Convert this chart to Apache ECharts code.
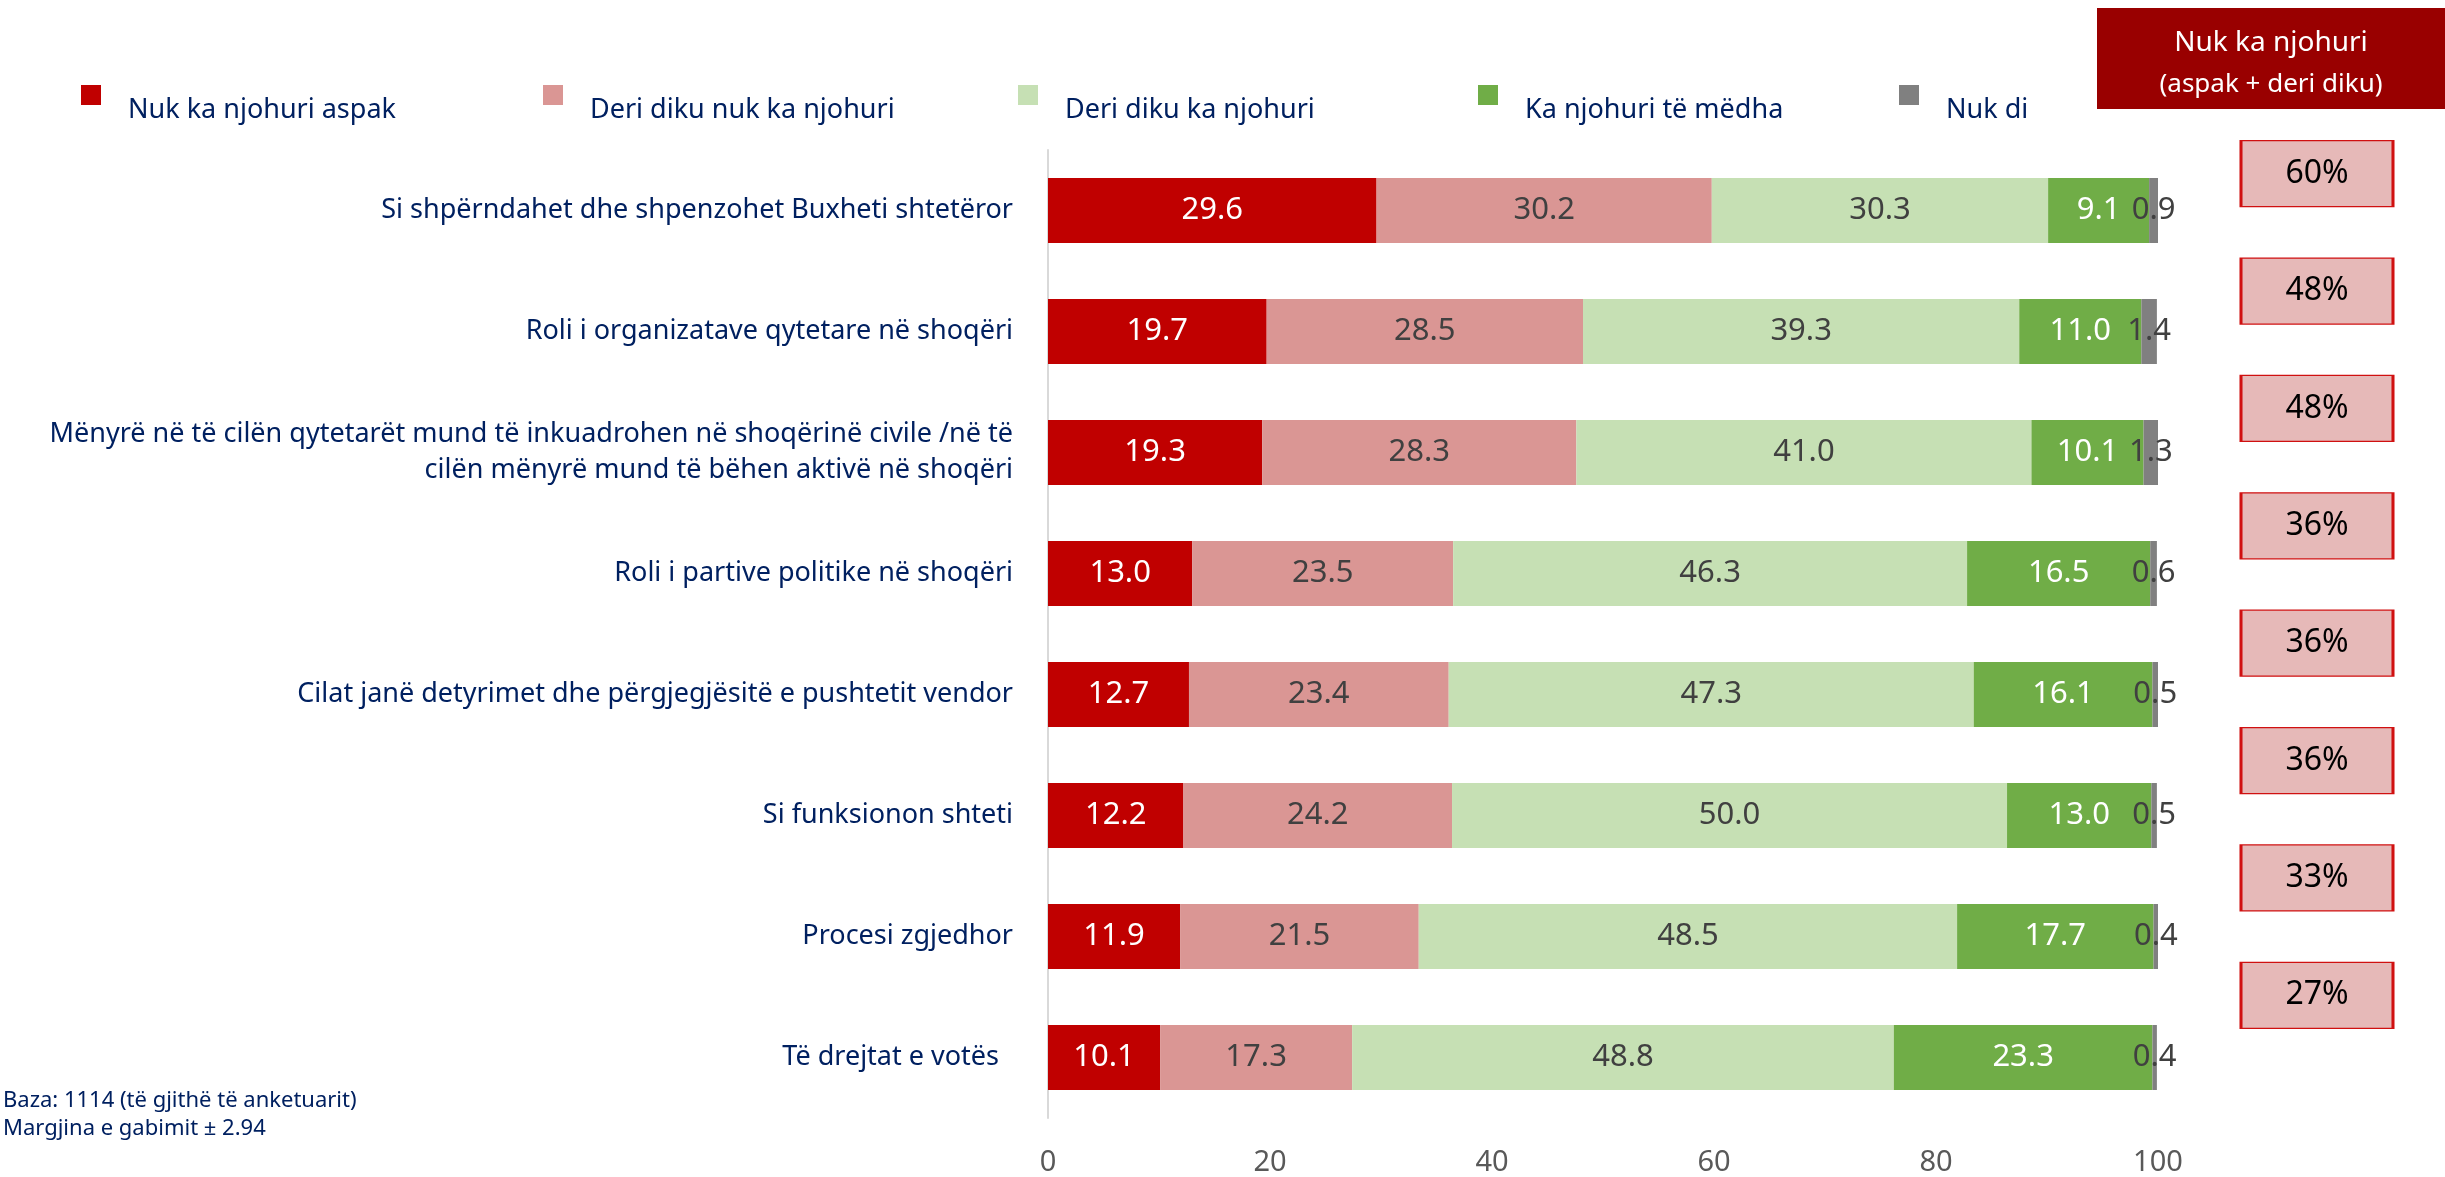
<!DOCTYPE html>
<html>
<head>
<meta charset="utf-8">
<script src="https://cdn.jsdelivr.net/npm/echarts@6/dist/echarts.min.js"></script>
<style>
  html, body { margin: 0; padding: 0; background: #fff; }
  #chart { width: 2445px; height: 1177px; }
</style>
</head>
<body>
<div id="chart"></div>
<script>
// data
var categories = [
  'Si shpërndahet dhe shpenzohet Buxheti shtetëror',
  'Roli i organizatave qytetare në shoqëri',
  'Mënyrë në të cilën qytetarët mund të inkuadrohen në shoqërinë civile /në të\ncilën mënyrë mund të bëhen aktivë në shoqëri',
  'Roli i partive politike në shoqëri',
  'Cilat janë detyrimet dhe përgjegjësitë e pushtetit vendor',
  'Si funksionon shteti',
  'Procesi zgjedhor',
  'Të drejtat e votës  '
]
var seriesNames = ['Nuk ka njohuri aspak', 'Deri diku nuk ka njohuri', 'Deri diku ka njohuri', 'Ka njohuri të mëdha', 'Nuk di']
var nukAspak = [29.6, 19.7, 19.3, 13.0, 12.7, 12.2, 11.9, 10.1]
var deriDikuNuk = [30.2, 28.5, 28.3, 23.5, 23.4, 24.2, 21.5, 17.3]
var deriDikuKa = [30.3, 39.3, 41.0, 46.3, 47.3, 50.0, 48.5, 48.8]
var kaTeMedha = [9.1, 11.0, 10.1, 16.5, 16.1, 13.0, 17.7, 23.3]
var nukDi = [0.9, 1.4, 1.3, 0.6, 0.5, 0.5, 0.4, 0.4]
var nukKaTotal = [60, 48, 48, 36, 36, 36, 33, 27]
var xTicks = [0, 20, 40, 60, 80, 100]

var colors = ['#C00000', '#DA9694', '#C6E0B4', '#70AD47', '#808080']
var labelColors = ['#ffffff', '#404040', '#404040', '#ffffff', '#404040']
var legendLeft = [81, 543, 1018, 1478, 1899]
var FONT = 'Noto Sans'
// legend square sits above the text line, like in the original
var legendIcon = 'path://M0,0h20v20h-20zM0,49.9h0.1v0.1h-0.1z'

var chart = echarts.init(document.getElementById('chart'))

var values = [nukAspak, deriDikuNuk, deriDikuKa, kaTeMedha, nukDi]
var barSeries = values.map(function (arr, i) {
  return {
    name: seriesNames[i],
    type: 'bar',
    stack: 'total',
    barWidth: 65,
    data: arr,
    itemStyle: { color: colors[i] },
    label: {
      show: true,
      position: 'inside',
      color: labelColors[i],
      fontFamily: FONT,
      fontSize: 31,
      formatter: function (p) { return p.value.toFixed(1) }
    },
    animation: false
  }
})

var legends = seriesNames.map(function (name, i) {
  return {
    data: [{ name: name, icon: legendIcon }],
    left: legendLeft[i],
    top: 85,
    padding: 0,
    itemWidth: 20,
    itemHeight: 50,
    selectedMode: false,
    textStyle: {
      color: '#002060',
      fontFamily: FONT,
      fontSize: 27,
      padding: [0, 0, 0, 22]
    }
  }
})

chart.setOption({
  backgroundColor: '#fff',
  legend: legends,
  grid: [
    { left: 1048, top: 150, width: 1110, height: 968, outerBoundsMode: 'none' },
    { left: 2237, top: 115, width: 160, height: 939, outerBoundsMode: 'none' }
  ],
  xAxis: [
    {
      type: 'value',
      gridIndex: 0,
      min: 0,
      max: 100,
      interval: 20,
      axisLine: { show: false },
      axisTick: { show: false },
      splitLine: { show: false },
      axisLabel: {
        color: '#595959',
        fontFamily: FONT,
        fontSize: 29,
        margin: 30,
        customValues: xTicks
      }
    },
    { type: 'value', gridIndex: 1, min: 0, max: 1, show: false }
  ],
  yAxis: [
    {
      type: 'category',
      gridIndex: 0,
      data: categories,
      inverse: true,
      axisLine: { show: true, lineStyle: { color: '#D9D9D9', width: 2 } },
      axisTick: { show: false },
      axisLabel: {
        color: '#002060',
        fontFamily: FONT,
        fontSize: 27,
        lineHeight: 36,
        margin: 35,
        align: 'right'
      }
    },
    { type: 'category', gridIndex: 1, data: categories, inverse: true, show: false }
  ],
  series: barSeries.concat([{
    type: 'scatter',
    xAxisIndex: 1,
    yAxisIndex: 1,
    symbol: 'rect',
    symbolSize: [152, 66],
    data: nukKaTotal.map(function (v, i) { return [0.5, i, v] }),
    itemStyle: { color: '#E6B9B8', borderColor: '#D01010', borderWidth: 2, opacity: 1 },
    label: {
      show: true,
      position: 'inside',
      color: '#000',
      fontFamily: FONT,
      fontSize: 32,
      formatter: function (p) { return p.value[2] + '%' }
    },
    animation: false
  }]),
  graphic: [
    { type: 'rect', left: 2097, top: 8, shape: { width: 348, height: 101 }, style: { fill: '#990000' } },
    { type: 'text', x: 2271, y: 43, style: { text: 'Nuk ka njohuri', fill: '#fff', font: '28px "Noto Sans"', align: 'center', verticalAlign: 'middle' } },
    { type: 'text', x: 2271, y: 85, style: { text: '(aspak + deri diku)', fill: '#fff', font: '26px "Noto Sans"', align: 'center', verticalAlign: 'middle' } },
    { type: 'text', x: 3, y: 1101, style: { text: 'Baza: 1114 (të gjithë të anketuarit)', fill: '#002060', font: '22px "Noto Sans"', verticalAlign: 'middle' } },
    { type: 'text', x: 3, y: 1129, style: { text: 'Margjina e gabimit ± 2.94', fill: '#002060', font: '22px "Noto Sans"', verticalAlign: 'middle' } }
  ]
})
</script>
</body>
</html>
